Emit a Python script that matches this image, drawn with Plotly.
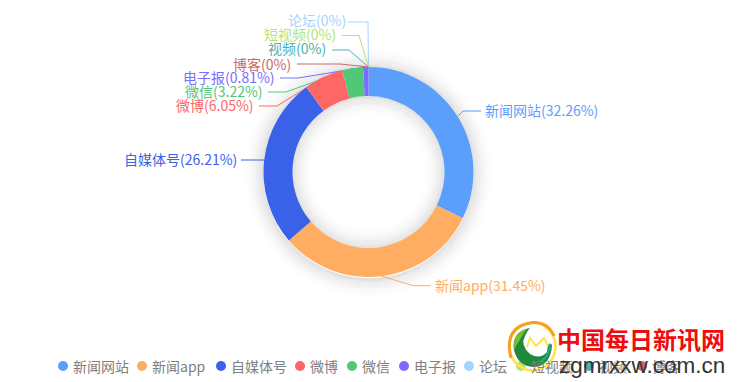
import plotly.graph_objects as go
import math

W, H = 737, 382
categories = ["新闻网站", "新闻app", "自媒体号", "微博", "微信", "电子报", "论坛", "短视频", "视频", "博客"]
values = [32.26, 31.45, 26.21, 6.05, 3.22, 0.81, 0, 0, 0, 0]
colors = ["#5B9EFB", "#FFAD60", "#3A62E8", "#FF6666", "#50C878", "#7B6CFF", "#A6D4FF", "#B5E56E", "#4FAFB5", "#C96A6A"]

CX, CY, R, RI = 368.5, 172, 105, 76
# text edge x, text y, elbow start x, elbow x, elbow y
label_pos = {
    "新闻网站": (484, 109.5, 481, 463, 111),
    "新闻app": (434, 284.5, 431, 413, 285.7),
    "自媒体号": (238, 159.5, 241, 258, 160),
    "微博": (255, 104.5, 259, 277, 106),
    "微信": (264, 90.5, 268, 286, 92),
    "电子报": (276, 76.5, 280, 298, 78),
    "博客": (292, 63.5, 297, 340, 64),
    "视频": (327, 48.5, 332, 349, 50),
    "短视频": (337, 34.5, 342, 359, 35.5),
    "论坛": (347, 20.5, 348, 368, 22),
}
legend_dots = [63, 142, 221, 300, 352, 404, 469, 521, 589, 642]


def px(x):
    return x / W


def py(y):
    return 1 - y / H


def seg(points, color, width=1, layer="below"):
    path = "M " + " L ".join(f"{px(a):.5f},{py(b):.5f}" for a, b in points)
    return dict(type="path", xref="paper", yref="paper", path=path, layer=layer,
                line=dict(color=color, width=width))


def path_str(d):
    out = []
    for item in d:
        c, nums = item[0], item[1:]
        pts = [f"{px(nums[i]):.5f},{py(nums[i + 1]):.5f}" for i in range(0, len(nums), 2)]
        out.append(c + " ".join(pts))
    return " ".join(out)


def curve(d, color, width=2):
    return dict(type="path", xref="paper", yref="paper", path=path_str(d), layer="above",
                line=dict(color=color, width=width))


def blob(d, fill):
    return dict(type="path", xref="paper", yref="paper", path=path_str(d) + " Z", layer="above",
                fillcolor=fill, line=dict(width=0))


def circle(cx, cy, r, fill=None, line=None, lw=0, layer="below", ry=None):
    ry = r if ry is None else ry
    return dict(type="circle", xref="paper", yref="paper", layer=layer,
                x0=px(cx - r), x1=px(cx + r), y0=py(cy + ry), y1=py(cy - ry),
                fillcolor=fill or "rgba(0,0,0,0)", line=dict(color=line or "rgba(0,0,0,0)", width=lw))


shapes = []
annotations = []

# soft ring shadow
N = 16
for i in range(1, N + 1):
    a = 0.12 * (1 - i / (N + 1)) ** 1.7
    shapes.append(circle(CX, CY + 1, R + i * 1.3 - 0.6, line=f"rgba(0,0,0,{a:.4f})", lw=1.4))
    shapes.append(circle(CX, CY, RI - i * 1.3 + 0.8, line=f"rgba(0,0,0,{a:.4f})", lw=1.4))

# leader lines and labels
cum = 0
for name, v, col in zip(categories, values, colors):
    ang = math.radians((cum + v / 2) / 100 * 360)
    cum += v
    tx, ty, sx, ex, ly = label_pos[name]
    end = (CX + R * math.sin(ang), CY - R * math.cos(ang))
    shapes.append(seg([(sx, ly), (ex, ly), end], col))
    annotations.append(dict(xref="paper", yref="paper", x=px(tx), y=py(ty), showarrow=False,
                            xanchor="left" if tx > CX else "right", yanchor="middle",
                            text=f"{name}({v:g}%)", font=dict(size=14, color=col), borderpad=0))

# legend
for name, col, d in zip(categories, colors, legend_dots):
    shapes.append(circle(d, 366, 5, fill=col, layer="above"))
    annotations.append(dict(xref="paper", yref="paper", x=px(d + 9), y=py(365.5), showarrow=False,
                            xanchor="left", yanchor="middle", text=name, borderpad=0,
                            font=dict(size=14, color="#808080")))

# watermark logo
shapes += [
    circle(532.5, 346.5, 23, line="#FFE24D", lw=2.5, layer="above", ry=24),
    curve([("M", 511, 358), ("Q", 503, 326, 533, 322.5), ("Q", 548, 322, 554, 336)], "#F5A020", 3),
    blob([("M", 530, 328), ("Q", 511, 332, 514, 350), ("Q", 518, 367, 535, 367),
          ("Q", 551, 365, 552, 345), ("Q", 548, 340, 547, 352), ("Q", 540, 360, 530, 354),
          ("Q", 520, 345, 525, 336), ("Q", 527, 331, 530, 328)], "#1F8A3B"),
    blob([("M", 528, 328), ("Q", 512, 333, 514, 350), ("Q", 517, 344, 521, 338), ("Q", 524, 332, 528, 328)], "#7DBB2E"),
    curve([("M", 527, 347), ("L", 530, 338), ("L", 536, 346), ("L", 544, 338), ("L", 548, 346)], "#FFE24D", 2),
    curve([("M", 550, 344), ("Q", 550, 356, 541, 361)], "#2AA58F", 2),
]
annotations.append(dict(xref="paper", yref="paper", x=px(556), y=py(338.5), showarrow=False, xanchor="left",
                        yanchor="middle", text="<b>中国每日新讯网</b>", borderpad=0,
                        font=dict(size=24, color="#F00C0C", family="Noto Sans CJK SC")))
annotations.append(dict(xref="paper", yref="paper", x=px(558), y=py(365), showarrow=False, xanchor="left",
                        yanchor="middle", text="zgmrxxw.com.cn", borderpad=0,
                        font=dict(size=22.5, color="#333333", family="Liberation Sans")))

fig = go.Figure(go.Pie(
    labels=categories, values=values, sort=False, direction="clockwise", rotation=0,
    hole=RI / R, textinfo="none", marker=dict(colors=colors, line=dict(width=0)),
    domain=dict(x=[px(CX - R), px(CX + R)], y=[py(CY + R), py(CY - R)]),
    showlegend=False, hoverinfo="label+percent",
))
fig.update_layout(width=W, height=H, margin=dict(l=0, r=0, t=0, b=0), paper_bgcolor="white",
                  font=dict(family="Noto Sans CJK SC, Noto Sans", size=14),
                  shapes=shapes, annotations=annotations)
fig.write_html("out.html", config=dict(displayModeBar=False),
               post_script="document.body.style.margin='0';document.documentElement.style.overflow='hidden';")
